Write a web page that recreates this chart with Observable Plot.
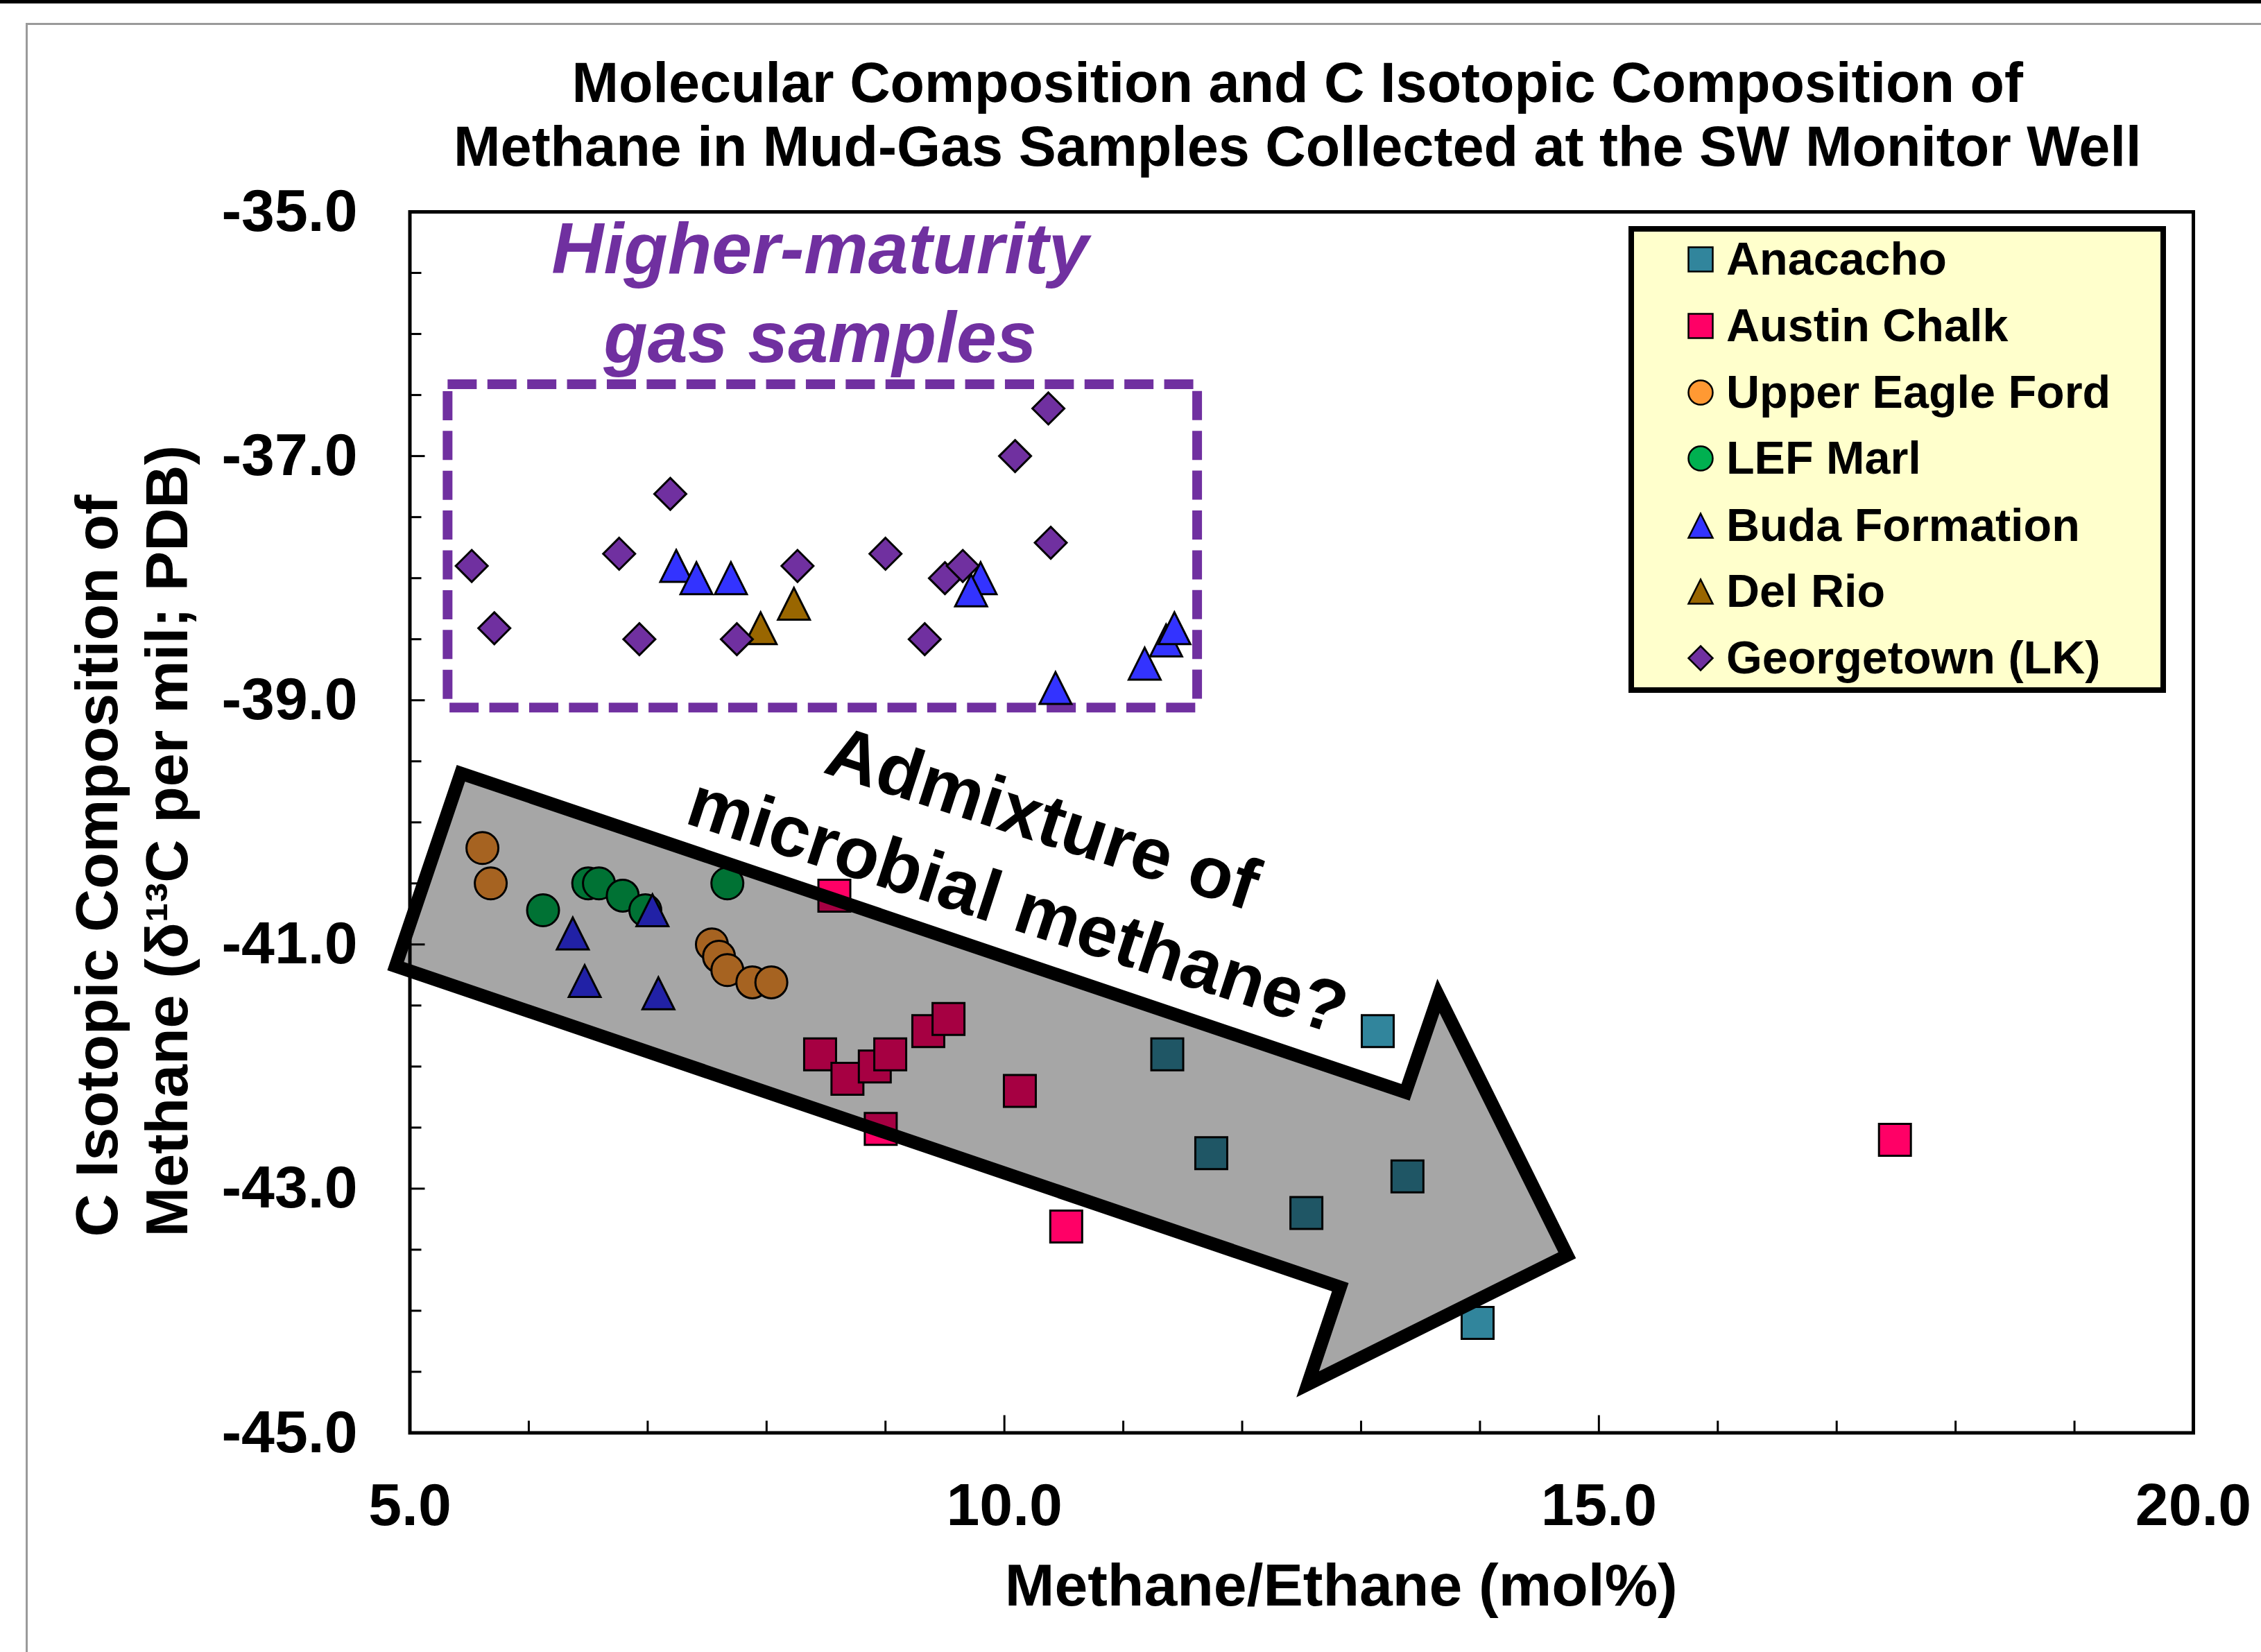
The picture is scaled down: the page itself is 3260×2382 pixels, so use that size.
<!DOCTYPE html>
<html><head><meta charset="utf-8">
<script src="https://cdn.jsdelivr.net/npm/d3@7"></script>
<script src="https://cdn.jsdelivr.net/npm/@observablehq/plot@0.6"></script>
<style>
html,body{margin:0;padding:0;background:#fff;overflow:hidden;}
#wrap{position:relative;width:3260px;height:2382px;font-family:"Liberation Sans",Arial,sans-serif;}
#chart{position:absolute;left:0;top:0;}
.deco{position:absolute;}
#legend{position:absolute;left:2348px;top:326px;}
</style></head><body>
<div id="wrap">
 <div id="chart"></div>
 <div class="deco" style="left:0;top:0;width:3260px;height:5px;background:#000"></div>
 <div class="deco" style="left:37px;top:33px;width:3223px;height:3px;background:#9a9a9a"></div>
 <div class="deco" style="left:37px;top:33px;width:3px;height:2349px;background:#9a9a9a"></div>
 <div id="legend"></div>
</div>
<script>
// ---- series ----
const seriesNames  = ["Anacacho","Austin Chalk","Upper Eagle Ford","LEF Marl","Buda Formation","Del Rio","Georgetown (LK)"];
const seriesColors = ["#31859C","#FF0066","#FF9933","#00B050","#3333FF","#996600","#7030A0"];
const seriesShapes = ["square","square","circle","circle","triangle","triangle","diamond"];

const anacachoX = [13.14, 11.37, 11.74, 12.54, 13.39, 13.98];
const anacachoY = [-41.71, -41.90, -42.71, -43.20, -42.90, -44.10];

const austinX = [8.57, 8.45, 8.68, 8.91, 9.04, 9.36, 9.53, 10.13, 8.96, 10.52, 17.49];
const austinY = [-40.60, -41.90, -42.10, -42.00, -41.90, -41.71, -41.61, -42.20, -42.51, -43.31, -42.60];

const upperEFX = [5.61, 5.68, 7.54, 7.60, 7.67, 7.88, 8.04];
const upperEFY = [-40.21, -40.50, -41.00, -41.10, -41.21, -41.31, -41.31];

const lefMarlX = [6.12, 6.50, 6.59, 6.79, 6.98, 7.67];
const lefMarlY = [-40.72, -40.50, -40.50, -40.60, -40.72, -40.50];

const budaX = [7.24, 7.41, 7.70, 9.80, 9.72, 10.43, 11.18, 11.36, 11.43, 6.37, 6.47, 7.04, 7.09];
const budaY = [-37.90, -38.00, -38.00, -38.00, -38.10, -38.90, -38.70, -38.51, -38.41, -40.91, -41.30, -40.72, -41.40];

const delRioX = [7.95, 8.23];
const delRioY = [-38.41, -38.21];

const georgetownX = [5.52, 5.71, 6.76, 7.19, 6.93, 7.75, 8.26, 9.00, 9.33, 9.50, 9.65, 10.09, 10.37, 10.39];
const georgetownY = [-37.90, -38.41, -37.80, -37.31, -38.50, -38.50, -37.90, -37.80, -38.50, -38.00, -37.90, -37.00, -36.61, -37.71];

const seriesX = [anacachoX, austinX, upperEFX, lefMarlX, budaX, delRioX, georgetownX];
const seriesY = [anacachoY, austinY, upperEFY, lefMarlY, budaY, delRioY, georgetownY];

// ---- axes ----
const xTickLabels = [5, 10, 15, 20];
const yTickLabels = [-35, -37, -39, -41, -43, -45];
const xMinorTicks = [6, 7, 8, 9, 11, 12, 13, 14, 16, 17, 18, 19];
const xMajorTicks = [10, 15];
const yMinorTicks = [-35.5,-36,-36.5,-37.5,-38,-38.5,-39.5,-40,-40.5,-41.5,-42,-42.5,-43.5,-44,-44.5];
const yMajorTicks = [-37, -39, -41, -43];

// ---- annotations (data coordinates) ----
const boxX = [5.32, 11.624];
const boxY = [-36.414, -39.063];
const arrowX = [5.429, 13.374, 13.651, 14.733, 12.551, 12.825, 4.880];
const arrowY = [-39.598, -42.211, -41.421, -43.546, -44.602, -43.807, -41.177];
const arrowTextLines = ["Admixture of", "microbial methane?"];
const arrowTextX = [10.32, 10.11];
const arrowTextY = [-39.975, -40.69];
const matureLines = ["Higher-maturity", "gas samples"];
const matureX = [8.45, 8.45];
const matureY = [-35.312, -36.042];
const titleLines = ["Molecular Composition and C Isotopic Composition of", "Methane in Mud-Gas Samples Collected at the SW Monitor Well"];
const yTitleLines = ["C Isotopic Composition of", "Methane (\u03B4\u00B9\u00B3C per mil; PDB)"];
const xTitle = "Methane/Ethane (mol%)";

// ---- symbols ----
const SYM = {
  square:   {draw(c,s){const h=Math.sqrt(s/Math.PI); c.rect(-h,-h,2*h,2*h);}},
  circle:   {draw(c,s){const h=Math.sqrt(s/Math.PI); c.moveTo(h,0); c.arc(0,0,h,0,2*Math.PI); c.closePath();}},
  triangle: {draw(c,s){const h=Math.sqrt(s/Math.PI); c.moveTo(0,-h); c.lineTo(h,h); c.lineTo(-h,h); c.closePath();}},
  diamond:  {draw(c,s){const h=Math.sqrt(s/Math.PI); c.moveTo(0,-h); c.lineTo(h,0); c.lineTo(0,h); c.lineTo(-h,0); c.closePath();}}
};

const W = 3260, H = 2382;
const mL = 590.5, mR = 98, mT = 305, mB = 316.5;
const plotW = W - mL - mR, plotH = H - mT - mB;
const FONT = '"Liberation Sans", Arial, Helvetica, sans-serif';

const marks = [];
// dashed box
marks.push(Plot.rect([{x1: boxX[0], x2: boxX[1], y1: boxY[0], y2: boxY[1]}],
  {x1: "x1", x2: "x2", y1: "y1", y2: "y2", fill: "none", stroke: "#7030A0", strokeWidth: 14, strokeDasharray: "42,15.4"}));
// frame & ticks
marks.push(Plot.frame({stroke: "black", strokeWidth: 5}));
marks.push(Plot.tickY(yMinorTicks, {y: d => d, stroke: "black", strokeWidth: 3, insetRight: plotW - 17}));
marks.push(Plot.tickY(yMajorTicks, {y: d => d, stroke: "black", strokeWidth: 3, insetRight: plotW - 22}));
marks.push(Plot.tickX(xMinorTicks, {x: d => d, stroke: "black", strokeWidth: 3, insetTop: plotH - 17}));
marks.push(Plot.tickX(xMajorTicks, {x: d => d, stroke: "black", strokeWidth: 3, insetTop: plotH - 25}));
// tick labels
marks.push(Plot.text(yTickLabels, {y: d => d, text: d => d.toFixed(1), frameAnchor: "left", textAnchor: "end", dx: -75.5, fontSize: 86, fontWeight: "bold", fill: "black"}));
marks.push(Plot.text(xTickLabels, {x: d => d, text: d => d.toFixed(1), frameAnchor: "bottom", lineAnchor: "top", dy: 71.5, fontSize: 86, fontWeight: "bold", fill: "black"}));
// points
seriesNames.forEach((name, k) => {
  const pts = seriesX[k].map((x, i) => ({x, y: seriesY[k][i], s: name}));
  marks.push(Plot.dot(pts, {x: "x", y: "y", r: 23, symbol: SYM[seriesShapes[k]], fill: seriesColors[k], stroke: "black", strokeWidth: 3}));
});
// arrow overlay
marks.push(Plot.line(arrowX.map((x, i) => ({x, y: arrowY[i]})),
  {x: "x", y: "y", curve: "linear-closed", fill: "black", fillOpacity: 0.35, stroke: "black", strokeWidth: 19, strokeLinejoin: "miter", strokeMiterlimit: 10}));
// arrow text
marks.push(Plot.text(arrowTextLines.map((t, i) => ({t, x: arrowTextX[i], y: arrowTextY[i]})),
  {x: "x", y: "y", text: "t", rotate: 18, fontSize: 105, fontWeight: "bold", fill: "black"}));
// higher maturity text
marks.push(Plot.text(matureLines.map((t, i) => ({t, x: matureX[i], y: matureY[i]})),
  {x: "x", y: "y", text: "t", fontSize: 104, fontWeight: "bold", fontStyle: "italic", fill: "#7030A0"}));
// title
marks.push(Plot.text([titleLines[0]], {text: d => d, frameAnchor: "top", lineAnchor: "top", dx: -6, dy: -215.8, fontSize: 81, fontWeight: "bold", fill: "black"}));
marks.push(Plot.text([titleLines[1]], {text: d => d, frameAnchor: "top", lineAnchor: "top", dx: -6, dy: -124.5, fontSize: 81, fontWeight: "bold", fill: "black"}));
// axis titles
marks.push(Plot.text([yTitleLines[0]], {text: d => d, frameAnchor: "bottom-left", rotate: -90, textAnchor: "start", dx: -422.5, dy: -282.5, fontSize: 86, fontWeight: "bold", fill: "black"}));
marks.push(Plot.text([yTitleLines[1]], {text: d => d, frameAnchor: "bottom-left", rotate: -90, textAnchor: "start", dx: -321, dy: -282.5, fontSize: 86, fontWeight: "bold", fill: "black"}));
marks.push(Plot.text([xTitle], {text: d => d, frameAnchor: "bottom", lineAnchor: "top", dx: 57, dy: 187.5, fontSize: 86, fontWeight: "bold", fill: "black"}));

const chart = Plot.plot({
  width: W, height: H,
  marginLeft: mL, marginRight: mR, marginTop: mT, marginBottom: mB,
  x: {domain: [5, 20], axis: null},
  y: {domain: [-45, -35], axis: null},
  style: {fontFamily: FONT, background: "transparent", overflow: "visible"},
  marks
});
document.getElementById("chart").appendChild(chart);

// ---- legend ----
(function(){
  const lw = 775, lh = 673;
  const svg = d3.select("#legend").append("svg").attr("width", lw).attr("height", lh)
    .style("font-family", FONT).style("overflow", "visible");
  svg.append("rect").attr("x", 4).attr("y", 4).attr("width", lw - 8).attr("height", lh - 8)
    .attr("fill", "#FFFFCC").attr("stroke", "black").attr("stroke-width", 8);
  const baselines = [70, 166, 262, 357, 454, 549, 645];
  seriesNames.forEach((name, k) => {
    const b = baselines[k];
    svg.append("path").attr("transform", `translate(104,${b - 22})`)
      .attr("d", d3.symbol(SYM[seriesShapes[k]], Math.PI * 17.5 * 17.5)())
      .attr("fill", seriesColors[k]).attr("stroke", "black").attr("stroke-width", 2.5);
    svg.append("text").attr("x", 141).attr("y", b).attr("font-size", 66.5).attr("font-weight", "bold")
      .attr("fill", "black").text(name);
  });
})();
</script>
</body></html>
